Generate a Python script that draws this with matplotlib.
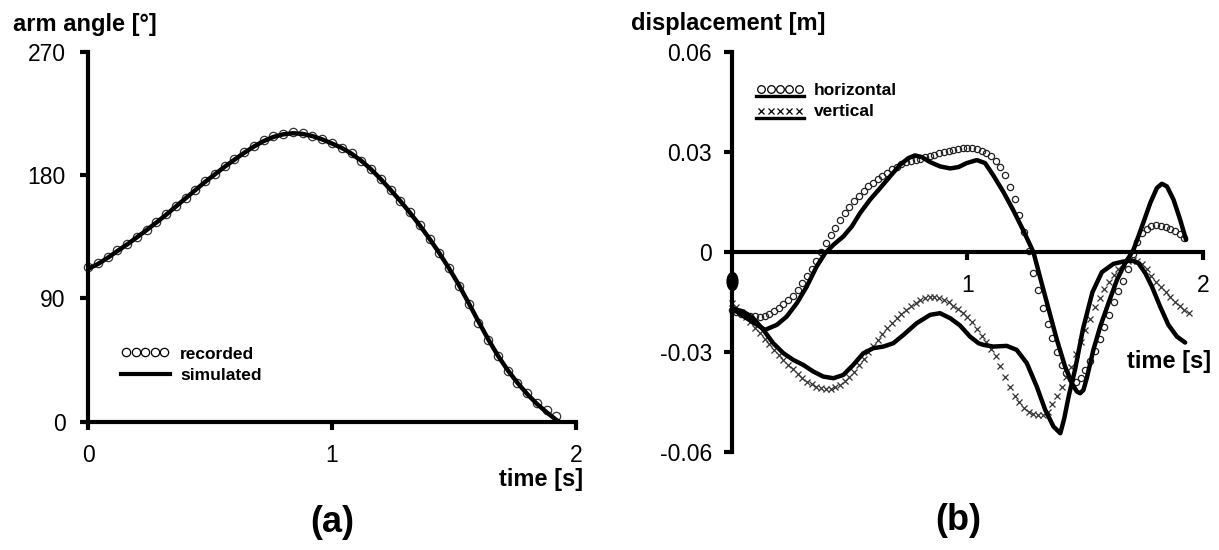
import numpy as np
import matplotlib
matplotlib.use("Agg")
import matplotlib.pyplot as plt
from matplotlib.lines import Line2D
from matplotlib.path import Path
from matplotlib.legend_handler import HandlerLine2D

plt.rcParams['font.family'] = ['Liberation Sans', 'DejaVu Sans']

# (a) arm angle
rec_time = [0.00, 0.04, 0.08, 0.12, 0.16, 0.20, 0.24, 0.28, 0.32, 0.36,
            0.40, 0.44, 0.48, 0.52, 0.56, 0.60, 0.64, 0.68, 0.72, 0.76,
            0.80, 0.84, 0.88, 0.92, 0.96, 1.00, 1.04, 1.08, 1.12, 1.16,
            1.20, 1.24, 1.28, 1.32, 1.36, 1.40, 1.44, 1.48, 1.52, 1.56,
            1.60, 1.64, 1.68, 1.72, 1.76, 1.80, 1.84, 1.88, 1.92]
rec_angle = [113.1, 115.6, 120.4, 125.3, 129.4, 134.6, 139.9, 145.5, 151.5, 157.5,
             163.5, 169.4, 175.4, 180.7, 186.4, 191.5, 196.6, 201.2, 205.4, 208.2,
             210.0, 211.4, 210.6, 208.7, 206.1, 203.1, 200.0, 195.9, 190.4, 184.2,
             176.8, 169.1, 161.3, 153.0, 143.5, 133.6, 123.4, 111.9, 99.2, 85.6,
             72.2, 59.3, 47.6, 37.2, 28.5, 20.7, 13.9, 8.5, 4.4]
sim_time = [0.00, 0.04, 0.08, 0.12, 0.16, 0.20, 0.24, 0.28, 0.32, 0.36,
            0.40, 0.44, 0.48, 0.52, 0.56, 0.60, 0.64, 0.68, 0.72, 0.76,
            0.80, 0.84, 0.88, 0.92, 0.96, 1.00, 1.04, 1.08, 1.12, 1.16,
            1.20, 1.24, 1.28, 1.32, 1.36, 1.40, 1.44, 1.48, 1.52, 1.56,
            1.60, 1.64, 1.68, 1.72, 1.76, 1.80, 1.84, 1.88, 1.92, 1.93]
sim_angle = [111.5, 115.0, 119.5, 124.5, 129.3, 134.5, 139.8, 145.3, 151.0, 157.0,
             163.0, 169.0, 175.0, 180.5, 186.0, 191.2, 196.2, 200.8, 204.8, 207.8,
             209.7, 210.5, 210.0, 208.4, 206.0, 203.0, 199.8, 195.6, 190.4, 184.2,
             177.0, 169.2, 161.0, 152.4, 143.2, 133.4, 123.0, 111.8, 99.8, 86.6,
             73.2, 60.2, 48.2, 37.6, 28.4, 20.2, 13.0, 6.8, 1.2, 0.0]

# (b) displacement, recorded every 0.02 s
hor_time = [round(0.02 * i, 2) for i in range(97)]
hor_rec = [-0.0173, -0.0179, -0.0185, -0.0188, -0.0191, -0.0192, -0.0193, -0.0190, -0.0185, -0.0177,
           -0.0166, -0.0156, -0.0144, -0.0130, -0.0112, -0.0093, -0.0072, -0.0051, -0.0027, 0.0000,
           0.0026, 0.0051, 0.0073, 0.0097, 0.0116, 0.0134, 0.0152, 0.0168, 0.0183, 0.0197,
           0.0208, 0.0219, 0.0229, 0.0238, 0.0248, 0.0256, 0.0263, 0.0269, 0.0273, 0.0276,
           0.0279, 0.0285, 0.0289, 0.0292, 0.0296, 0.0300, 0.0303, 0.0306, 0.0309, 0.0311,
           0.0312, 0.0311, 0.0308, 0.0304, 0.0297, 0.0287, 0.0273, 0.0256, 0.0232, 0.0194,
           0.0160, 0.0112, 0.0060, 0.0003, -0.0062, -0.0114, -0.0168, -0.0215, -0.0258, -0.0300,
           -0.0337, -0.0362, -0.0380, -0.0388, -0.0378, -0.0354, -0.0326, -0.0297, -0.0261, -0.0225,
           -0.0189, -0.0150, -0.0117, -0.0087, -0.0050, -0.0005, 0.0030, 0.0057, 0.0070, 0.0078,
           0.0080, 0.0079, 0.0076, 0.0070, 0.0063, 0.0053, 0.0043]
ver_time = [round(0.02 * i, 2) for i in range(98)]
ver_rec = [-0.0153, -0.0165, -0.0180, -0.0195, -0.0210, -0.0226, -0.0242, -0.0259, -0.0276, -0.0293,
           -0.0308, -0.0323, -0.0337, -0.0351, -0.0366, -0.0378, -0.0388, -0.0396, -0.0403, -0.0408,
           -0.0411, -0.0411, -0.0405, -0.0398, -0.0387, -0.0375, -0.0358, -0.0338, -0.0319, -0.0300,
           -0.0281, -0.0262, -0.0245, -0.0228, -0.0213, -0.0198, -0.0185, -0.0173, -0.0162, -0.0152,
           -0.0143, -0.0137, -0.0133, -0.0134, -0.0137, -0.0143, -0.0150, -0.0160, -0.0170, -0.0182,
           -0.0195, -0.0210, -0.0230, -0.0250, -0.0270, -0.0290, -0.0312, -0.0340, -0.0375, -0.0405,
           -0.0430, -0.0450, -0.0466, -0.0478, -0.0485, -0.0489, -0.0488, -0.0478, -0.0455, -0.0430,
           -0.0405, -0.0375, -0.0345, -0.0305, -0.0270, -0.0233, -0.0200, -0.0165, -0.0137, -0.0110,
           -0.0088, -0.0068, -0.0050, -0.0037, -0.0028, -0.0024, -0.0027, -0.0037, -0.0052, -0.0070,
           -0.0088, -0.0105, -0.0120, -0.0133, -0.0148, -0.0160, -0.0172, -0.0183]

hor_sim_time = [0.0, 0.064, 0.142, 0.192, 0.234, 0.277, 0.319, 0.361, 0.397, 0.432,
                0.474, 0.51, 0.545, 0.587, 0.63, 0.672, 0.715, 0.75, 0.778, 0.807,
                0.842, 0.884, 0.927, 0.962, 0.997, 1.04, 1.075, 1.11, 1.153, 1.195,
                1.237, 1.28, 1.308, 1.344, 1.379, 1.414, 1.443, 1.464, 1.478, 1.492,
                1.506, 1.534, 1.563, 1.598, 1.634, 1.669, 1.704, 1.74, 1.775, 1.803,
                1.824, 1.846, 1.874, 1.902, 1.927]
hor_sim = [-0.0168, -0.0198, -0.0233, -0.0218, -0.0193, -0.0153, -0.0103, -0.0043, -0.0003, 0.0022,
           0.0047, 0.0077, 0.0117, 0.0157, 0.0192, 0.0227, 0.0262, 0.0282, 0.0290, 0.0285,
           0.0270, 0.0257, 0.0251, 0.0255, 0.0267, 0.0276, 0.0267, 0.0230, 0.0180, 0.0125,
           0.0065, 0.0000, -0.0075, -0.0170, -0.0262, -0.0343, -0.0393, -0.0418, -0.0423, -0.0413,
           -0.0378, -0.0293, -0.0223, -0.0153, -0.0083, -0.0033, 0.0007, 0.0077, 0.0147, 0.0192,
           0.0205, 0.0197, 0.0157, 0.0097, 0.0037]
ver_sim_time = [0.0, 0.05, 0.092, 0.135, 0.177, 0.22, 0.262, 0.304, 0.347, 0.389,
                0.432, 0.474, 0.516, 0.559, 0.601, 0.644, 0.686, 0.729, 0.785, 0.842,
                0.884, 0.927, 0.969, 1.011, 1.047, 1.068, 1.11, 1.167, 1.209, 1.252,
                1.294, 1.33, 1.365, 1.394, 1.41, 1.43, 1.457, 1.49, 1.53, 1.57,
                1.619, 1.662, 1.697, 1.725, 1.754, 1.782, 1.817, 1.852, 1.888, 1.923]
ver_sim = [-0.0168, -0.0178, -0.0198, -0.0233, -0.0273, -0.0303, -0.0323, -0.0338, -0.0358, -0.0373,
           -0.0378, -0.0368, -0.0338, -0.0303, -0.0288, -0.0283, -0.0273, -0.0248, -0.0213, -0.0188,
           -0.0183, -0.0198, -0.0220, -0.0253, -0.0273, -0.0278, -0.0283, -0.0281, -0.0293, -0.0333,
           -0.0403, -0.0473, -0.0523, -0.0543, -0.0500, -0.0430, -0.0350, -0.0230, -0.0120, -0.0060,
           -0.0035, -0.0028, -0.0025, -0.0033, -0.0063, -0.0103, -0.0163, -0.0218, -0.0253, -0.0271]

start_mark = -0.0087

a_yticks = [0, 90, 180, 270]
b_yticks = [-0.06, -0.03, 0, 0.03, 0.06]
b_ylabels = ['-0.06', '-0.03', '0', '0.03', '0.06']


class ShiftedLine(HandlerLine2D):
    # legend key drawn a few points above/below the row centre
    def __init__(self, dy=0.0, **kw):
        super().__init__(**kw)
        self.dy = dy

    def create_artists(self, legend, orig_handle, xdescent, ydescent, width, height, fontsize, trans):
        arts = super().create_artists(legend, orig_handle, xdescent, ydescent, width, height, fontsize, trans)
        for a in arts:
            a.set_ydata(np.asarray(a.get_ydata()) + self.dy)
        return arts


W, H = 1219, 550
fig = plt.figure(figsize=(W / 100, H / 100), dpi=100)

def px(x, y):
    return x / W, 1 - y / H

lw = 3.2
bold = {'weight': 'bold', 'size': 17}
leg_font = {'weight': 'bold', 'size': 12.5}

# ---------------- panel (a)
ax1 = fig.add_axes([88 / W, 1 - 421.7 / H, 488 / W, 370 / H])
ax1.plot(rec_time, rec_angle, ls='none', marker='o', ms=6, mfc='none', mec='#333333', mew=0.9, clip_on=False)
ax1.plot(sim_time, sim_angle, color='black', lw=lw, solid_capstyle='round')
ax1.set_xlim(0, 2)
ax1.set_ylim(0, 270)
ax1.set_xticks([0, 1, 2])
ax1.set_yticks(a_yticks)
for s in ['top', 'right']:
    ax1.spines[s].set_visible(False)
for s in ['left', 'bottom']:
    ax1.spines[s].set_linewidth(3)
ax1.tick_params(width=3, length=6, labelsize=16.5, direction='out')
ax1.tick_params(axis='y', pad=10)
ax1.tick_params(axis='x', pad=10)

h_rec = Line2D([], [], ls='none', marker='o', ms=6, mfc='none', mec='black', mew=0.9)
h_sim = Line2D([], [], color='black', lw=3)
ax1.legend([h_rec, h_sim], ['recorded', 'simulated'],
           handler_map={h_rec: ShiftedLine(dy=0.5, numpoints=5), h_sim: ShiftedLine(dy=-0.5)},
           loc='upper left', bbox_to_anchor=px(121, 347), bbox_transform=fig.transFigure,
           frameon=False, borderpad=0, borderaxespad=0, handlelength=2.8, handletextpad=0.6,
           labelspacing=0.3, prop=leg_font)

fig.text(*px(12.7, 31), 'arm angle [°]', ha='left', va='baseline', fontdict=bold)
fig.text(*px(583, 486), 'time [s]', ha='right', va='baseline', fontdict=bold)
fig.text(*px(332, 522), '(a)', ha='center', va='center', weight='bold', size=26)

# ---------------- panel (b)
ax2 = fig.add_axes([731.5 / W, 1 - 452.3 / H, 471.8 / W, 400.3 / H])
ax2.plot(hor_time, hor_rec, ls='none', marker='o', ms=4.5, mfc='none', mec='#222222', mew=0.9, clip_on=False)
ax2.plot(ver_time, ver_rec, ls='none', marker='x', ms=4.8, color='#333333', mew=0.9, clip_on=False)
ax2.plot(hor_sim_time, hor_sim, color='black', lw=lw, solid_capstyle='round')
ax2.plot(ver_sim_time, ver_sim, color='black', lw=lw, solid_capstyle='round')

circ = Path.unit_circle()
ellipse = Path(circ.vertices * [0.6, 1.0], circ.codes)
ax2.plot([0], [start_mark], ls='none', marker=ellipse, ms=13, color='black', clip_on=False)

ax2.set_xlim(0, 2)
ax2.set_ylim(-0.06, 0.06)
ax2.set_xticks([1, 2])
ax2.set_yticks(b_yticks, labels=b_ylabels)
for s in ['top', 'right']:
    ax2.spines[s].set_visible(False)
ax2.spines['bottom'].set_position(('data', 0))
for s in ['left', 'bottom']:
    ax2.spines[s].set_linewidth(3)
ax2.tick_params(width=3, length=6, labelsize=16.5, direction='out')
ax2.tick_params(axis='y', pad=8)
ax2.tick_params(axis='x', pad=10)

h_o = Line2D([], [], ls='none', marker='o', ms=5.5, mfc='none', mec='black', mew=0.9)
h_x = Line2D([], [], ls='none', marker='x', ms=5, color='black', mew=0.9)
h_l1 = Line2D([], [], color='black', lw=2.4)
h_l2 = Line2D([], [], color='black', lw=2.4)
hmap = {h_o: ShiftedLine(dy=-0.3, numpoints=5), h_x: ShiftedLine(dy=-0.8, numpoints=5),
        h_l1: ShiftedLine(dy=-5.3), h_l2: ShiftedLine(dy=-6.2)}
ax2.legend([(h_o, h_l1), (h_x, h_l2)], ['horizontal', 'vertical'], handler_map=hmap,
           loc='upper left', bbox_to_anchor=px(756, 83), bbox_transform=fig.transFigure,
           frameon=False, borderpad=0, borderaxespad=0, handlelength=2.75, handletextpad=0.6,
           labelspacing=0.3, prop=leg_font)

fig.text(*px(631, 30), 'displacement [m]', ha='left', va='baseline', fontdict=bold)
fig.text(*px(1210.7, 367.7), 'time [s]', ha='right', va='baseline', fontdict=bold)
fig.text(*px(958, 521), '(b)', ha='center', va='center', weight='bold', size=26)

fig.savefig('out.png', dpi=100)
